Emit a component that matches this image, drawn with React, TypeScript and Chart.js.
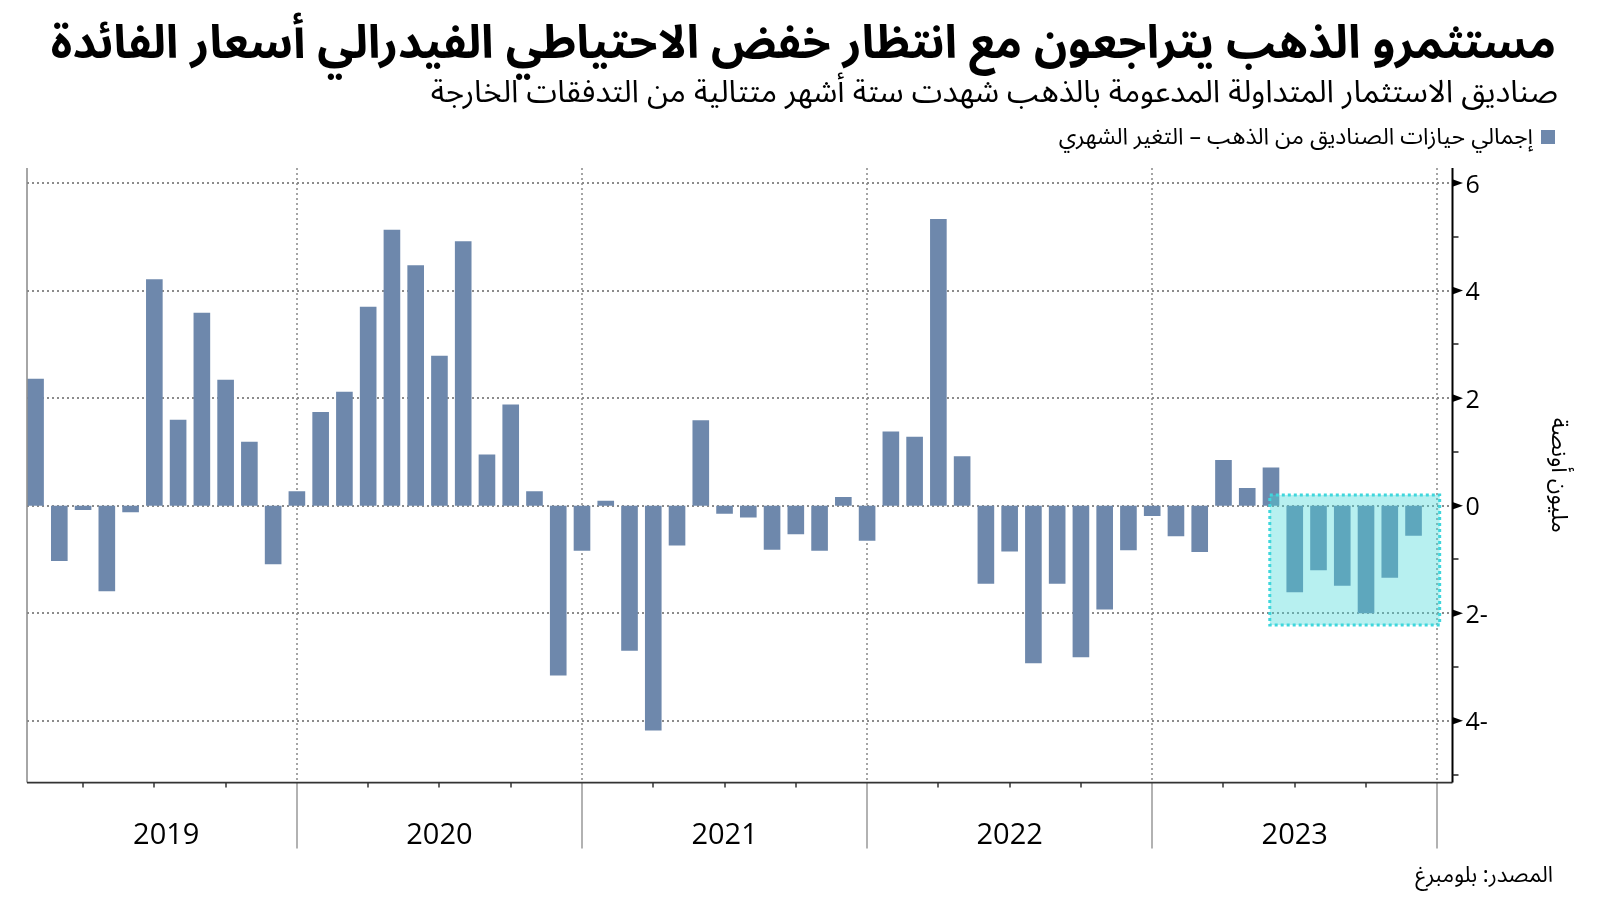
import React, { useEffect, useRef } from 'react';
import { Chart, registerables } from 'chart.js';

Chart.register(...registerables);

// ---------------- data ----------------
const MONTHS = [
  '2019-01', '2019-02', '2019-03', '2019-04', '2019-05', '2019-06', '2019-07', '2019-08', '2019-09', '2019-10', '2019-11', '2019-12',
  '2020-01', '2020-02', '2020-03', '2020-04', '2020-05', '2020-06', '2020-07', '2020-08', '2020-09', '2020-10', '2020-11', '2020-12',
  '2021-01', '2021-02', '2021-03', '2021-04', '2021-05', '2021-06', '2021-07', '2021-08', '2021-09', '2021-10', '2021-11', '2021-12',
  '2022-01', '2022-02', '2022-03', '2022-04', '2022-05', '2022-06', '2022-07', '2022-08', '2022-09', '2022-10', '2022-11', '2022-12',
  '2023-01', '2023-02', '2023-03', '2023-04', '2023-05', '2023-06', '2023-07', '2023-08', '2023-09', '2023-10', '2023-11',
];

const VALUES_2019 = [2.36, -1.03, -0.08, -1.59, -0.12, 4.21, 1.6, 3.59, 2.34, 1.19, -1.09, 0.27];
const VALUES_2020 = [1.74, 2.12, 3.7, 5.13, 4.47, 2.79, 4.92, 0.95, 1.88, 0.27, -3.16, -0.84];
const VALUES_2021 = [0.09, -2.7, -4.18, -0.74, 1.59, -0.15, -0.22, -0.82, -0.53, -0.84, 0.16, -0.65];
const VALUES_2022 = [1.38, 1.28, 5.33, 0.92, -1.45, -0.85, -2.93, -1.45, -2.82, -1.93, -0.83, -0.19];
const VALUES_2023 = [-0.57, -0.86, 0.85, 0.33, 0.71, -1.61, -1.2, -1.49, -2.0, -1.34, -0.56];
const VALUES = [...VALUES_2019, ...VALUES_2020, ...VALUES_2021, ...VALUES_2022, ...VALUES_2023];

const YEARS = ['2019', '2020', '2021', '2022', '2023'];
const Y_TICKS = [-4, -2, 0, 2, 4, 6];
const Y_MINOR = [-5, -3, -1, 1, 3, 5];
const Y_MIN = -5.15;
const Y_MAX = 6.28;
const X_MIN = 0.64;
const X_MAX = 60.64;

// highlighted period (in month units / y units)
const HIGHLIGHT = { from: 52.95, to: 60.1, top: 0.2, bottom: -2.22 };

const TITLE = 'مستثمرو الذهب يتراجعون مع انتظار خفض الاحتياطي الفيدرالي أسعار الفائدة';
const SUBTITLE = 'صناديق الاستثمار المتداولة المدعومة بالذهب شهدت ستة أشهر متتالية من التدفقات الخارجة';
const LEGEND_LABEL = 'إجمالي حيازات الصناديق من الذهب – التغير الشهري';
const SOURCE = 'المصدر: بلومبرغ';
const Y_TITLE = 'مليون أونصة';

const BAR_COLOR = '#6e88ac';
const AR_FONT = '"Noto Sans Arabic", "DejaVu Sans", sans-serif';

// month-end position, in months since start of first year
const BASE_YEAR = Number(YEARS[0]);
const monthPos = (label: string) => {
  const [yy, mm] = label.split('-').map(Number);
  return (yy - BASE_YEAR) * 12 + mm;
};
const FIRST_POS = monthPos(MONTHS[0]);
const YEAR_POS = YEARS.map((_, i) => (Math.max(i * 12, FIRST_POS) + (i + 1) * 12) / 2);
const YEAR_BOUNDS = YEARS.map((_, i) => (i + 1) * 12);

const decorPlugin = {
  id: 'decor',
  beforeDatasetsDraw(chart: any) {
    const { ctx, chartArea: a, scales } = chart;
    const x = scales.x;
    const y = scales.y;
    ctx.save();
    ctx.lineWidth = 1.5;
    ctx.setLineDash([2, 3]);
    ctx.strokeStyle = '#666';
    Y_TICKS.forEach((v) => {
      const py = Math.round(y.getPixelForValue(v));
      ctx.beginPath();
      ctx.moveTo(a.left, py);
      ctx.lineTo(a.right, py);
      ctx.stroke();
    });
    ctx.strokeStyle = '#888';
    YEAR_BOUNDS.forEach((b) => {
      const px = Math.round(x.getPixelForValue(b));
      if (px <= a.left || px >= a.right) return;
      ctx.beginPath();
      ctx.moveTo(px, a.top);
      ctx.lineTo(px, a.bottom);
      ctx.stroke();
    });
    ctx.restore();
  },
  afterDatasetsDraw(chart: any) {
    const { ctx, chartArea: a, scales } = chart;
    const x = scales.x;
    const y = scales.y;
    ctx.save();
    // highlight box
    const hx1 = x.getPixelForValue(HIGHLIGHT.from);
    const hx2 = x.getPixelForValue(HIGHLIGHT.to);
    const hy1 = y.getPixelForValue(HIGHLIGHT.top);
    const hy2 = y.getPixelForValue(HIGHLIGHT.bottom);
    ctx.fillStyle = 'rgba(70, 216, 216, 0.39)';
    ctx.fillRect(hx1, hy1, hx2 - hx1, hy2 - hy1);
    ctx.setLineDash([3, 3]);
    ctx.lineWidth = 3;
    ctx.strokeStyle = '#3fd6dc';
    ctx.strokeRect(hx1, hy1, hx2 - hx1, hy2 - hy1);
    ctx.setLineDash([]);

    // left axis
    ctx.strokeStyle = '#888';
    ctx.lineWidth = 1.5;
    ctx.beginPath();
    ctx.moveTo(a.left, a.top);
    ctx.lineTo(a.left, a.bottom);
    ctx.stroke();

    // year separators below axis
    ctx.strokeStyle = '#999';
    ctx.lineWidth = 1.5;
    YEAR_BOUNDS.forEach((b) => {
      const px = Math.round(x.getPixelForValue(b));
      if (px <= a.left || px >= a.right) return;
      ctx.beginPath();
      ctx.moveTo(px, a.bottom);
      ctx.lineTo(px, a.bottom + 66);
      ctx.stroke();
    });

    // quarter ticks
    ctx.strokeStyle = '#333';
    for (let m = 3; m < X_MAX; m += 3) {
      if (m % 12 === 0 || m < X_MIN) continue;
      const px = Math.round(x.getPixelForValue(m));
      ctx.beginPath();
      ctx.moveTo(px, a.bottom);
      ctx.lineTo(px, a.bottom + 5);
      ctx.stroke();
    }

    // bottom axis
    ctx.strokeStyle = '#333';
    ctx.lineWidth = 1.8;
    ctx.beginPath();
    ctx.moveTo(a.left, a.bottom);
    ctx.lineTo(a.right, a.bottom);
    ctx.stroke();

    // right axis
    ctx.strokeStyle = '#000';
    ctx.lineWidth = 2;
    ctx.beginPath();
    ctx.moveTo(a.right, a.top);
    ctx.lineTo(a.right, a.bottom);
    ctx.stroke();

    // minor ticks
    ctx.lineWidth = 1.5;
    ctx.strokeStyle = '#222';
    Y_MINOR.forEach((v) => {
      const py = Math.round(y.getPixelForValue(v));
      ctx.beginPath();
      ctx.moveTo(a.right, py);
      ctx.lineTo(a.right + 6, py);
      ctx.stroke();
    });
    // major tick triangles
    ctx.fillStyle = '#000';
    Y_TICKS.forEach((v) => {
      const py = y.getPixelForValue(v);
      ctx.beginPath();
      ctx.moveTo(a.right, py - 3.8);
      ctx.lineTo(a.right + 10.5, py);
      ctx.lineTo(a.right, py + 3.8);
      ctx.closePath();
      ctx.fill();
    });
    ctx.restore();
  },
};

export default function App() {
  const canvasRef = useRef<HTMLCanvasElement | null>(null);

  useEffect(() => {
    const canvas = canvasRef.current;
    if (!canvas) return;
    const chart = new Chart(canvas, {
      type: 'bar',
      data: {
        datasets: [
          {
            label: LEGEND_LABEL,
            data: MONTHS.map((m, i) => ({ x: monthPos(m), y: VALUES[i] })),
            backgroundColor: BAR_COLOR,
            borderWidth: 0,
            barPercentage: 0.7,
            categoryPercentage: 1,
          },
        ],
      },
      options: {
        animation: false,
        responsive: false,
        devicePixelRatio: 1,
        layout: { padding: { left: 27, top: 168, right: 0, bottom: 0 } },
        plugins: {
          legend: { display: false },
          tooltip: { enabled: false },
          title: { display: false },
        },
        scales: {
          x: {
            type: 'linear',
            min: X_MIN,
            max: X_MAX,
            offset: false,
            grid: { display: false, drawTicks: false },
            border: { display: false },
            afterBuildTicks: (s: any) => {
              s.ticks = YEAR_POS.map((v) => ({ value: v }));
            },
            afterFit: (s: any) => {
              s.height = 118.4;
            },
            ticks: {
              autoSkip: false,
              maxRotation: 0,
              minRotation: 0,
              padding: 36,
              color: '#000',
              font: { family: '"Open Sans", sans-serif', size: 29 },
              callback: (_v: any, i: number) => YEARS[i],
            },
          },
          y: {
            type: 'linear',
            position: 'right',
            min: Y_MIN,
            max: Y_MAX,
            grid: { display: false, drawTicks: false },
            border: { display: false },
            afterBuildTicks: (s: any) => {
              s.ticks = Y_TICKS.map((v) => ({ value: v }));
            },
            afterFit: (s: any) => {
              s.width = 147.5;
            },
            ticks: {
              padding: 13,
              labelOffset: 2.5,
              color: '#000',
              font: { family: '"Open Sans", sans-serif', size: 25 },
              callback: (v: any) => (Number(v) < 0 ? `${Math.abs(Number(v))}-` : `${v}`),
            },
            title: {
              display: true,
              text: Y_TITLE,
              color: '#000',
              font: { family: AR_FONT, size: 23 },
              padding: { top: 31, bottom: 0 },
            },
          },
        },
      },
      plugins: [decorPlugin],
    } as any);
    return () => chart.destroy();
  }, []);

  const base: React.CSSProperties = {
    position: 'absolute',
    fontFamily: AR_FONT,
    color: '#000',
    whiteSpace: 'nowrap',
    direction: 'rtl',
    textAlign: 'right',
    margin: 0,
  };

  return (
    <div style={{ position: 'fixed', left: 0, top: 0, width: 1600, height: 901, background: '#fff', overflow: 'hidden' }}>
      <canvas ref={canvasRef} width={1600} height={901} style={{ position: 'absolute', left: 0, top: 0, width: 1600, height: 901 }} />
      <div style={{ ...base, right: 44, top: 16, fontSize: 46, fontWeight: 700, lineHeight: '56px' }}>{TITLE}</div>
      <div style={{ ...base, right: 42, top: 72, fontSize: 31, lineHeight: '40px' }}>{SUBTITLE}</div>
      <div style={{ ...base, right: 45, top: 122, fontSize: 23, lineHeight: '30px', display: 'flex', alignItems: 'center', gap: 8 }}>
        <span style={{ display: 'inline-block', width: 14, height: 14, background: BAR_COLOR }} />
        <span>{LEGEND_LABEL}</span>
      </div>
      <div style={{ ...base, right: 47, top: 860, fontSize: 22, lineHeight: '30px' }}>{SOURCE}</div>
    </div>
  );
}
